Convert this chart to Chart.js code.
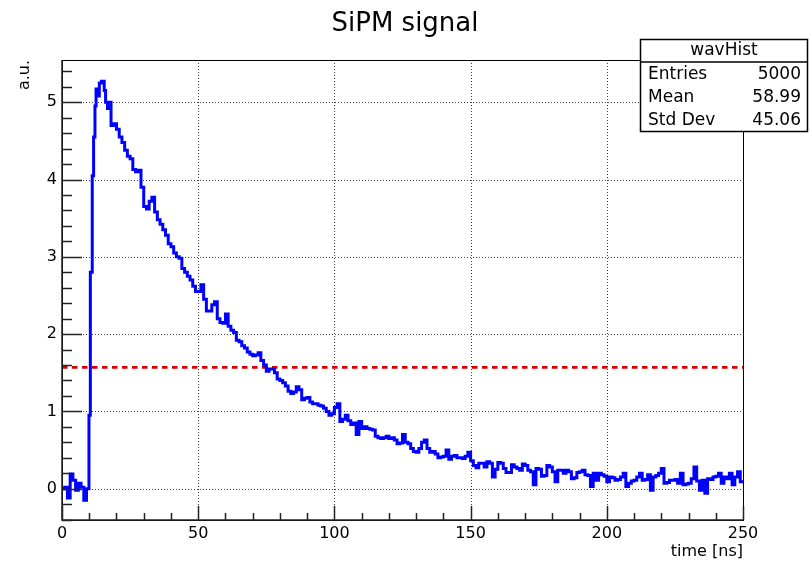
<!DOCTYPE html>
<html>
<head>
<meta charset="utf-8">
<script src="https://cdn.jsdelivr.net/npm/chart.js@4.4.1/dist/chart.umd.min.js"></script>
<style>
  html, body { margin: 0; padding: 0; background: #fff; }
  #wrap { width: 810px; height: 561px; }
</style>
</head>
<body>
<div id="wrap"><canvas id="c" width="810" height="561"></canvas></div>
<script>
// ---------------- data ----------------
const chartTitle = 'SiPM signal';
const xTitle = 'time [ns]';
const yTitle = 'a.u.';
const histName = 'wavHist';
const statLabels = ['Entries', 'Mean', 'Std Dev'];
const statValues = ['5000', '58.99', '45.06'];

// baseline, 1 ns bins starting at t = 0
const baselineAmps = [0.0, 0.02, -0.12, 0.19, 0.11, -0.02, 0.07, 0.02, -0.15, 0.0];
// rising edge / peak samples (start time of each step, ns)
const riseTimes = [9.9, 10.4, 11.1, 11.6, 12.1, 12.5, 13.1, 13.7, 14.5, 15.5, 16, 16.7, 17.4, 18];
const riseAmps  = [0.95, 2.8, 4.05, 4.55, 4.95, 5.17, 5.08, 5.25, 5.27, 5.15, 5.0, 4.92, 5.0, 4.7];
// decay tail, 1 ns bins starting at t = 19
const tailStart = 19;
const tailAmps = [
  4.72, 4.65, 4.55, 4.48, 4.38, 4.3, 4.27, 4.13, 4.1, 4.12, 3.9,
  3.65, 3.62, 3.72, 3.77, 3.58, 3.48, 3.42, 3.35, 3.28, 3.17,
  3.13, 3.05, 3.0, 2.98, 2.85, 2.8, 2.75, 2.7, 2.62, 2.55,
  2.55, 2.64, 2.45, 2.3, 2.3, 2.38, 2.42, 2.2, 2.15, 2.14,
  2.26, 2.1, 2.05, 2.02, 1.92, 1.9, 1.85, 1.82, 1.77, 1.74,
  1.72, 1.73, 1.76, 1.66, 1.6, 1.52, 1.55, 1.55, 1.5, 1.42,
  1.4, 1.37, 1.33, 1.26, 1.23, 1.25, 1.32, 1.28, 1.15, 1.17,
  1.18, 1.12, 1.1, 1.1, 1.08, 1.07, 1.04, 1.0, 0.95, 0.97,
  1.05, 1.1, 0.87, 0.9, 0.95, 0.88, 0.83, 0.85, 0.7, 0.87,
  0.78, 0.8, 0.78, 0.77, 0.76, 0.68, 0.66, 0.65, 0.66, 0.68,
  0.65, 0.66, 0.63, 0.58, 0.59, 0.7, 0.6, 0.58, 0.52, 0.48,
  0.47, 0.52, 0.6, 0.63, 0.52, 0.47, 0.48, 0.45, 0.4, 0.41,
  0.42, 0.5, 0.38, 0.42, 0.43, 0.4, 0.4, 0.39, 0.42, 0.47,
  0.36, 0.3, 0.27, 0.33, 0.33, 0.28, 0.35, 0.33, 0.15, 0.25,
  0.34, 0.33, 0.26, 0.21, 0.21, 0.31, 0.28, 0.26, 0.24, 0.32,
  0.3, 0.24, 0.22, 0.05, 0.26, 0.25, 0.16, 0.17, 0.3, 0.28,
  0.22, 0.09, 0.24, 0.24, 0.2, 0.24, 0.22, 0.13, 0.14, 0.21,
  0.22, 0.24, 0.18, 0.17, 0.03, 0.2, 0.11, 0.2, 0.18, 0.16,
  0.09, 0.15, 0.14, 0.11, 0.12, 0.15, 0.2, 0.03, 0.07, 0.1,
  0.11, 0.15, 0.2, 0.11, 0.12, 0.18, -0.02, 0.15, 0.17, 0.2,
  0.26, 0.07, 0.08, 0.11, 0.11, 0.12, 0.07, 0.2, 0.05, 0.06,
  0.07, 0.13, 0.28, 0.1, -0.02, 0.11, -0.06, 0.13, 0.12, 0.15,
  0.16, 0.2, 0.07, 0.15, 0.13, 0.2, 0.05, 0.15, 0.22, 0.09
];
const thresholdLevel = 1.57;

const xMin = 0, xMax = 250;
const yMin = -0.405, yMax = 5.546;
const xTicks = [0, 50, 100, 150, 200, 250];
const yTicks = [0, 1, 2, 3, 4, 5];
const xMinorStep = 10;
const yMinorStep = 0.2;

// ---------------- build points ----------------
const wavePoints = [];
baselineAmps.forEach((v, i) => wavePoints.push({ x: i, y: v }));
riseTimes.forEach((t, i) => wavePoints.push({ x: t, y: riseAmps[i] }));
tailAmps.forEach((v, i) => wavePoints.push({ x: tailStart + i, y: v }));
wavePoints.push({ x: xMax, y: tailAmps[tailAmps.length - 1] }); // right edge of last bin

const thresholdPoints = [{ x: xMin, y: thresholdLevel }, { x: xMax, y: thresholdLevel }];

const FONT = "'DejaVu Sans', 'Liberation Sans', sans-serif";

// ---------------- ROOT-like frame plugin ----------------
const rootStyle = {
  id: 'rootStyle',
  beforeDatasetsDraw(chart) {
    const { ctx, chartArea: a, scales: { x, y } } = chart;
    ctx.save();
    ctx.strokeStyle = 'rgba(0,0,0,0.75)';
    ctx.lineWidth = 1;
    ctx.setLineDash([1, 2]);
    xTicks.forEach(v => {
      if (v <= xMin || v >= xMax) return;
      const px = Math.round(x.getPixelForValue(v)) + 0.5;
      ctx.beginPath(); ctx.moveTo(px, a.top); ctx.lineTo(px, a.bottom); ctx.stroke();
    });
    yTicks.forEach(v => {
      const py = Math.round(y.getPixelForValue(v)) + 0.5;
      ctx.beginPath(); ctx.moveTo(a.left, py); ctx.lineTo(a.right, py); ctx.stroke();
    });
    ctx.restore();
  },
  afterDatasetsDraw(chart) {
    const { ctx, chartArea: a, scales: { x, y } } = chart;
    ctx.save();
    ctx.setLineDash([]);
    ctx.strokeStyle = '#000';
    ctx.lineWidth = 1;
    ctx.strokeRect(Math.round(a.left) + 0.5, Math.round(a.top) + 0.5,
                   Math.round(a.right - a.left), Math.round(a.bottom - a.top));
    ctx.strokeStyle = '#222';
    ctx.lineWidth = 1.5;
    // y ticks (inside)
    for (let k = Math.ceil(yMin / yMinorStep); k * yMinorStep <= yMax + 1e-9; k++) {
      const v = k * yMinorStep;
      const major = Math.abs(v - Math.round(v)) < 1e-6;
      const py = Math.round(y.getPixelForValue(v)) + 0.5;
      ctx.beginPath(); ctx.moveTo(a.left, py); ctx.lineTo(a.left + (major ? 20 : 10), py); ctx.stroke();
    }
    // x ticks (inside)
    for (let v = xMin; v <= xMax; v += xMinorStep) {
      const major = v % 50 === 0;
      const px = Math.round(x.getPixelForValue(v)) + 0.5;
      ctx.beginPath(); ctx.moveTo(px, a.bottom); ctx.lineTo(px, a.bottom - (major ? 14 : 7)); ctx.stroke();
    }
    // axis lines
    ctx.beginPath();
    ctx.moveTo(a.left, a.top); ctx.lineTo(a.left, a.bottom); ctx.lineTo(a.right, a.bottom);
    ctx.stroke();
    ctx.restore();
  },
  afterDraw(chart) {
    const { ctx, chartArea: a } = chart;
    ctx.save();
    ctx.fillStyle = '#000';
    // title
    ctx.font = `26px ${FONT}`;
    ctx.textAlign = 'center';
    ctx.textBaseline = 'alphabetic';
    ctx.fillText(chartTitle, 405, 31);
    // x title
    ctx.font = `16px ${FONT}`;
    ctx.textAlign = 'right';
    ctx.fillText(xTitle, a.right, 556);
    // y title
    ctx.save();
    ctx.translate(29, a.top);
    ctx.rotate(-Math.PI / 2);
    ctx.textAlign = 'right';
    ctx.textBaseline = 'alphabetic';
    ctx.fillText(yTitle, 0, 0);
    ctx.restore();
    // stats box
    const bx = 640.5, by = 39.5, bw = 167, bh = 92;
    ctx.fillStyle = '#fff';
    ctx.fillRect(bx, by, bw, bh);
    ctx.strokeStyle = '#000';
    ctx.lineWidth = 1.5;
    ctx.strokeRect(bx, by, bw, bh);
    ctx.beginPath(); ctx.moveTo(bx, 62); ctx.lineTo(bx + bw, 62); ctx.stroke();
    ctx.fillStyle = '#000';
    ctx.font = `17px ${FONT}`;
    ctx.textBaseline = 'middle';
    ctx.textAlign = 'center';
    ctx.fillText(histName, bx + bw / 2, 51);
    statLabels.forEach((lab, i) => {
      const yy = 75 + i * 23;
      ctx.textAlign = 'left';
      ctx.fillText(lab, 648, yy);
      ctx.textAlign = 'right';
      ctx.fillText(statValues[i], 801, yy);
    });
    ctx.restore();
  }
};

new Chart(document.getElementById('c'), {
  type: 'line',
  data: {
    datasets: [
      {
        label: histName,
        data: wavePoints,
        borderColor: 'rgb(0,0,255)',
        borderWidth: 3,
        stepped: 'before',
        pointRadius: 0,
        tension: 0,
        fill: false,
        borderJoinStyle: 'miter',
        borderCapStyle: 'butt'
      },
      {
        label: 'threshold',
        data: thresholdPoints,
        borderColor: 'rgb(215,0,0)',
        borderWidth: 2.6,
        borderDash: [5.5, 4.5],
        pointRadius: 0,
        fill: false
      }
    ]
  },
  options: {
    responsive: false,
    devicePixelRatio: 1,
    animation: false,
    layout: { padding: { left: 0, right: 67, top: 60, bottom: 5 } },
    plugins: { legend: { display: false }, tooltip: { enabled: false }, title: { display: false } },
    scales: {
      x: {
        type: 'linear',
        min: xMin, max: xMax,
        grid: { display: false, drawTicks: false },
        border: { display: false },
        ticks: { font: { family: FONT, size: 16 }, color: '#000', padding: 4, maxRotation: 0 },
        afterBuildTicks: s => { s.ticks = xTicks.map(v => ({ value: v })); },
        afterFit: s => { s.height = 36; }
      },
      y: {
        type: 'linear',
        min: yMin, max: yMax,
        grid: { display: false, drawTicks: false },
        border: { display: false },
        ticks: { font: { family: FONT, size: 16 }, color: '#000', padding: 5 },
        afterBuildTicks: s => { s.ticks = yTicks.map(v => ({ value: v })); },
        afterFit: s => { s.width = 62; }
      }
    }
  },
  plugins: [rootStyle]
});
</script>
</body>
</html>
